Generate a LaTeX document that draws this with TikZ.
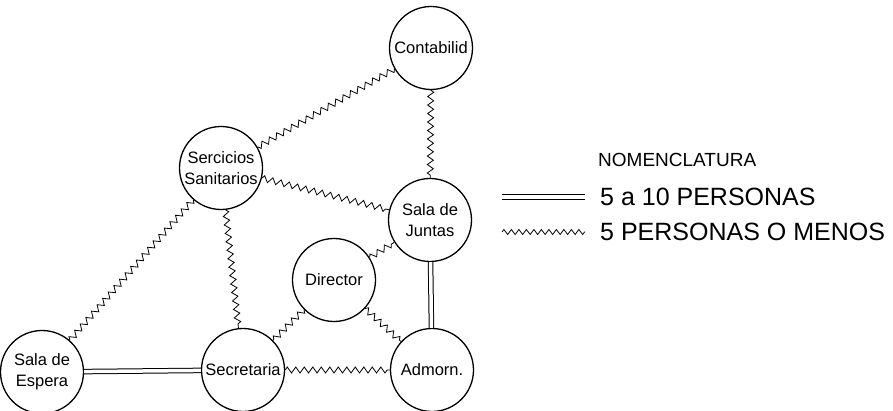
\documentclass[tikz,border=0pt]{standalone}
\usepackage{fontspec}
\setmainfont{Liberation Sans}
\usetikzlibrary{decorations.pathmorphing}
\begin{document}
\begin{tikzpicture}[x=1pt,y=-1pt,
  room/.style={circle, draw, line width=1.3pt, minimum size=83pt, inner sep=0pt, align=center, font=\fontsize{16.5}{21}\selectfont},
  few/.style={decorate, decoration={zigzag, segment length=8.5pt, amplitude=3pt}, line width=0.8pt},
  many/.style={double, double distance=3.5pt, line width=1pt},
  legtext/.style={anchor=west, inner sep=0pt}]
\useasboundingbox (0,0) rectangle (893,411);

\node[room] (cont) at (431,48) {Contabilid};
\node[room] (sani) at (221,168) {Sercicios\\Sanitarios};
\node[room] (junt) at (430,220) {Sala de\\Juntas};
\node[room] (dir) at (334,280) {Director};
\node[room] (adm) at (432,370) {Admorn.};
\node[room] (sec) at (243,370) {Secretaria};
\node[room] (esp) at (42,372) {Sala de\\Espera};

\draw[few] (cont) -- (sani);
\draw[few] (cont) -- (junt);
\draw[few] (sani) -- (junt);
\draw[few] (sani) -- (esp);
\draw[few] (sani) -- (sec);
\draw[few] (dir) -- (junt);
\draw[few] (dir) -- (sec);
\draw[few] (dir) -- (adm);
\draw[few] (sec) -- (adm);
\draw[many] (esp) -- (sec);
\draw[many] (junt) -- (adm);

\node[legtext, font=\fontsize{19}{22}\selectfont] (nom) at (598,160) {NOMENCLATURA};
\coordinate (d1) at (502,197);
\coordinate (d2) at (585,197);
\draw[many] (d1) -- (d2);
\node[legtext, font=\fontsize{25}{28}\selectfont] (l1) at (600,197) {5 a 10 PERSONAS};
\coordinate (z1) at (502,232);
\coordinate (z2) at (585,232);
\draw[few, decoration={segment length=7.5pt, amplitude=2.5pt}] (z1) -- (z2);
\node[legtext, font=\fontsize{25}{28}\selectfont] (l2) at (600,232) {5 PERSONAS O MENOS};
\end{tikzpicture}
\end{document}
